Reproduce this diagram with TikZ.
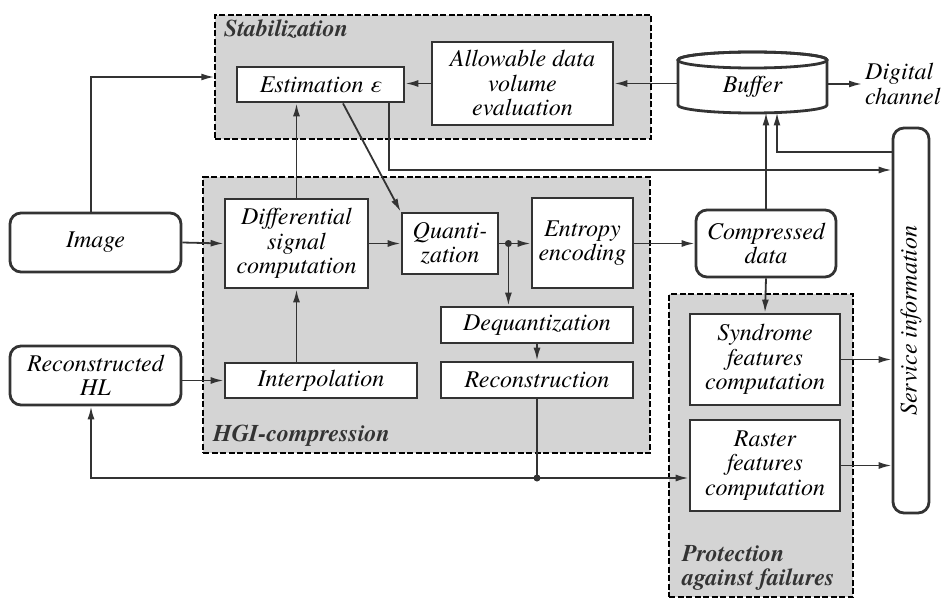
\documentclass[tikz,border=0pt]{standalone}
\usepackage{fontspec}
\setmainfont{TeX Gyre Termes}
\usetikzlibrary{arrows.meta,calc}
\definecolor{ink}{HTML}{333333}
\definecolor{grp}{HTML}{D4D4D4}
\newcommand\bxfont{\itshape\fontsize{24}{24.5}\selectfont}
\newcommand\glfont{\bfseries\itshape\fontsize{24}{24.5}\selectfont}
\tikzset{
  box/.style={draw=ink,line width=2.8pt,fill=white,inner sep=0pt,font=\bxfont,align=center},
  rbox/.style={box,rounded corners=11pt},
  grpbox/.style={draw=black,fill=grp,line width=1.5pt,dash pattern=on 6pt off 2.5pt,inner sep=0pt},
  conn/.style={draw=ink,line width=1.8pt},
  arr/.style={conn,-{Latex[length=13pt,width=7pt]}},
  jdot/.style={circle,fill=ink,inner sep=0pt,minimum size=7pt},
  glabel/.style={font=\glfont,inner sep=0pt,align=left,text=ink},
}
\begin{document}
\begin{tikzpicture}[x=1pt,y=-1pt]
\useasboundingbox (0,0) rectangle (943,599);

% groups
\node[grpbox,minimum width=436pt,minimum height=124pt] (stab) at (433,77) {};
\node[grpbox,minimum width=447pt,minimum height=276pt] (hgi) at (426.5,315) {};
\node[grpbox,minimum width=184pt,minimum height=303pt] (prot) at (761,445.5) {};
\node[glabel,anchor=west] (stablab) at (224,29) {Stabilization};
\node[glabel,anchor=west] (hgilab) at (213,436) {HGI-compression};
\node[glabel,anchor=west] (protlab) at (682,568) {Protection\\against failures};

% boxes
\node[box,minimum width=167pt,minimum height=35pt] (est) at (320.5,84.5) {Estimation ε};
\node[box,minimum width=181pt,minimum height=83pt] (allow) at (522.5,83.5) {Allowable data\\volume\\evaluation};
\node[box,minimum width=143pt,minimum height=89pt] (diff) at (296.5,243.5) {Differential\\signal\\computation};
\node[box,minimum width=96pt,minimum height=61pt] (quant) at (450,243.5) {Quanti-\\zation};
\node[box,minimum width=101pt,minimum height=90pt] (entropy) at (582.5,243) {Entropy\\encoding};
\node[box,minimum width=192pt,minimum height=36pt] (deq) at (537,325) {Dequantization};
\node[box,minimum width=192pt,minimum height=36pt] (recon) at (537,380) {Reconstruction};
\node[box,minimum width=192pt,minimum height=35pt] (interp) at (321,380.5) {Interpolation};
\node[rbox,minimum width=171pt,minimum height=59pt] (image) at (95.5,242.5) {Image};
\node[rbox,minimum width=171pt,minimum height=59pt] (rhl) at (95.5,375.5) {Reconstructed\\HL};
\node[rbox,minimum width=140pt,minimum height=67pt] (comp) at (766,243.5) {Compressed\\data};
\node[box,minimum width=150pt,minimum height=91pt] (synd) at (765,359.5) {Syndrome\\features\\computation};
\node[box,minimum width=150pt,minimum height=91pt] (raster) at (765,465.5) {Raster\\features\\computation};
\node[rbox,rotate=90,minimum width=385pt,minimum height=36pt] (service) at (911,320.5) {Service information};

% buffer cylinder
\draw[draw=ink,line width=2.8pt,fill=white] (678,60) -- (678,105)
  arc[start angle=180,end angle=360,x radius=74.5pt,y radius=8pt] -- (827,60)
  arc[start angle=0,end angle=180,x radius=74.5pt,y radius=8pt] -- cycle;
\draw[draw=ink,line width=2.8pt] (752.5,60) ellipse [x radius=74.5pt,y radius=8pt];
\node[inner sep=0pt,minimum width=149pt,minimum height=61pt] (buffer) at (752.5,82.5) {};
\node[font=\bxfont,inner sep=0pt] (buftxt) at (752.5,87) {Buffer};
\node[font=\bxfont,align=left,anchor=west,inner sep=0pt] (dig) at (865,84) {Digital\\channel};

% coordinates
\coordinate (bufb1) at (766,112.5);
\coordinate (bufb2) at (777,112.5);
\coordinate (e2) at ($(est.south)+(22.5,0)$);
\coordinate (e3) at ($(est.south)+(68.5,0)$);
\coordinate (im) at ($(image.north)+(-4.5,0)$);
\coordinate (rh) at ($(rhl.south)+(-4.5,0)$);

% connectors
\draw[arr] (im) |- (stab.west);
\draw[arr] (image.east) -- (diff.west);
\draw[arr] (rhl.east |- interp.west) -- (interp.west);
\draw[arr] (interp.north -| diff.south) -- (diff.south);
\draw[arr] (diff.north) -- (diff.north |- est.south);
\draw[arr] (e2) -- (quant.north west);
\draw[arr] (allow.west) -- (est.east |- allow.west);
\draw[arr] (buffer.west |- allow.east) -- (allow.east);
\draw[arr] (buffer.east |- dig.west) -- ([xshift=-3pt]dig.west);
\draw[arr] (e3) |- (service.north |- 0,170);
\draw[arr] (diff.east) -- (quant.west);
\node[jdot] (j1) at ($(quant.east)+(9,0)$) {};
\draw[arr] (quant.east) -- (entropy.west |- quant.east);
\draw[arr] (j1.center) -- (j1 |- deq.north);
\draw[arr] (deq.south) -- (recon.north);
\node[jdot] (j2) at (537,478) {};
\draw[conn] (recon.south) -- (j2.center);
\draw[arr] (j2.center) -| (rh);
\draw[arr] (j2.center) -- (raster.west |- j2);
\draw[arr] (entropy.east |- comp.west) -- (comp.west);
\draw[arr] (comp.north) -- (comp.north |- bufb1);
\draw[arr] (comp.south) -- (synd.north);
\draw[arr] (service.north |- 0,152) -| (bufb2);
\draw[arr] (synd.east) -- (synd.east -| service.north);
\draw[arr] (raster.east) -- (raster.east -| service.north);
\end{tikzpicture}
\end{document}
